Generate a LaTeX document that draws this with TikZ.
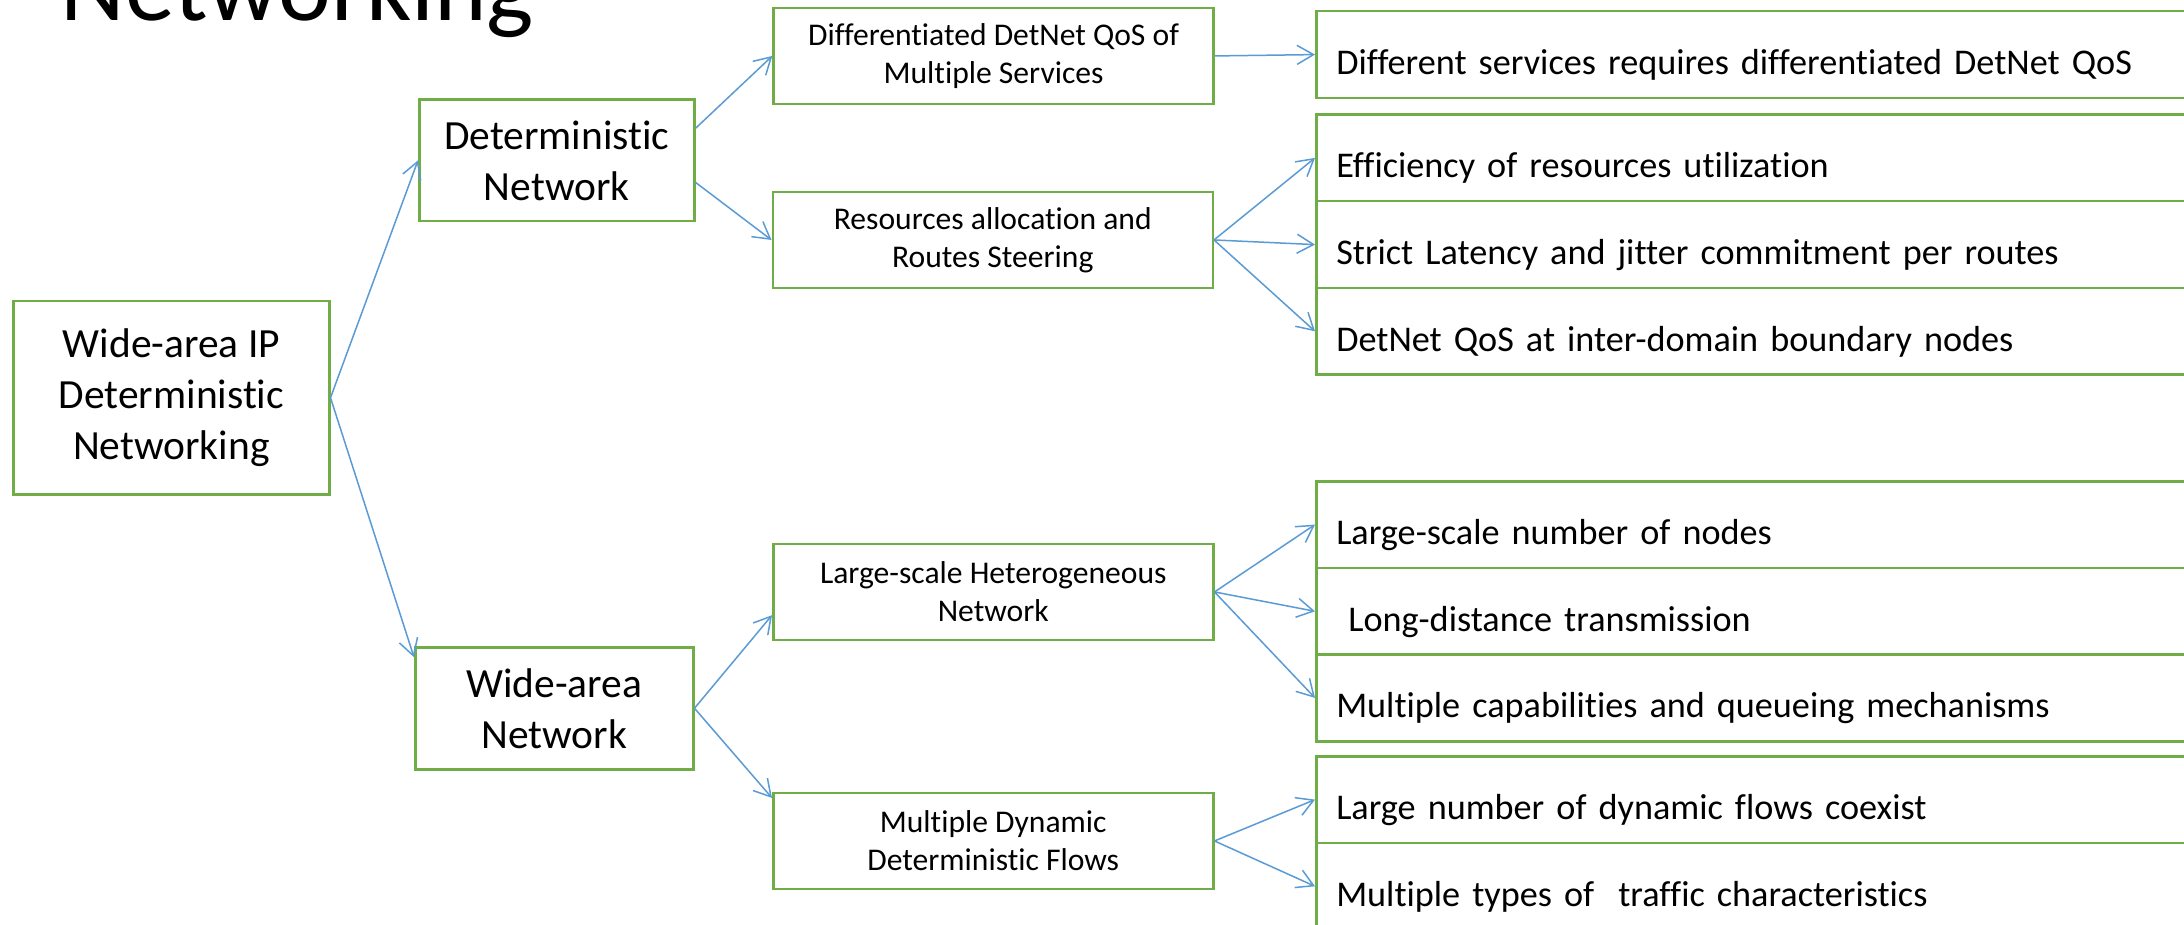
\documentclass[tikz,border=0pt]{standalone}
\usepackage{fontspec}
\setmainfont{Carlito}[Ligatures=NoCommon]
\usetikzlibrary{arrows.meta}
\definecolor{boxgreen}{HTML}{70AD47}
\definecolor{arrowblue}{HTML}{5B9BD5}
\begin{document}
\begin{tikzpicture}[x=0.5pt,y=-0.5pt,
  box/.style={draw=boxgreen, line width=1.25pt, inner sep=0pt, align=center, anchor=north west},
  bigtext/.style={font=\fontsize{20.75}{25.5}\selectfont},
  midtext/.style={font=\fontsize{15.8}{19}\selectfont},
  midbox/.style={box, midtext, minimum width=220pt, minimum height=48pt},
  rbox/.style={draw=boxgreen, line width=1.25pt, anchor=north west, inner xsep=10pt, inner ysep=0pt,
    minimum width=542.5pt, minimum height=43.35pt, text width=522.5pt, align=left,
    text height=19.7pt, text depth=0pt, font=\fontsize{18.1}{22}\selectfont},
  arr/.style={draw=arrowblue, line width=0.75pt, -{Straight Barb[length=8.25pt,width=9.5pt]}}
]
\useasboundingbox (0,0) rectangle (2184,925);
\fill[white] (0,0) rectangle (2184,925);
\clip (0,0) rectangle (2184,925);

\node[anchor=base west, inner sep=0pt, font=\fontsize{50}{60}\selectfont] (title) at (60,20.5) {Networking};

\node[box, bigtext, minimum width=157.85pt, minimum height=96.5pt] (root) at (12.3,300) {Wide-area IP\\Deterministic\\Networking};
\node[box, bigtext, minimum width=137.5pt, minimum height=60.85pt] (det) at (418,98.3) {Deterministic\\Network};
\node[box, bigtext, minimum width=139pt, minimum height=61pt] (wan) at (414,646) {Wide-area\\Network};

\node[midbox] (diff) at (772.3,6.7) {Differentiated DetNet QoS of\\Multiple Services};
\node[midbox] (res) at (771.5,190.7) {Resources allocation and\\Routes Steering};
\node[midbox] (lsh) at (772,542.7) {Large-scale Heterogeneous\\Network};
\node[midbox] (mdf) at (772,791.7) {Multiple Dynamic\\Deterministic Flows};

\node[rbox] (r1) at (1315,10) {Different services requires differentiated DetNet QoS};
\node[rbox] (r2) at (1315,113.3) {Efficiency of resources utilization};
\node[rbox] (r3) at (1315,200) {Strict Latency and jitter commitment per routes};
\node[rbox] (r4) at (1315,286.7) {DetNet QoS at inter-domain boundary nodes};
\node[rbox] (r5) at (1315,480) {Large-scale number of nodes};
\node[rbox] (r6) at (1315,566.7) {\ Long-distance transmission};
\node[rbox] (r7) at (1315,653.3) {Multiple capabilities and queueing mechanisms};
\node[rbox] (r8) at (1315,755) {Large number of dynamic flows coexist};
\node[rbox] (r9) at (1315,841.7) {Multiple types of~ traffic characteristics};

\draw[arr] (root.east) -- (det.west);
\draw[arr] (root.east) -- (wan.160);
\draw[arr] (det.13) -- (diff.west);
\draw[arr] (det.-9) -- (res.west);
\draw[arr] (wan.east) -- (lsh.186.7);
\draw[arr] (wan.east) -- (mdf.169);
\draw[arr] (diff.east) -- (r1.west);
\draw[arr] (res.east) -- (r2.west);
\draw[arr] (res.east) -- (r3.west);
\draw[arr] (res.east) -- (r4.west);
\draw[arr] (lsh.east) -- (r5.west);
\draw[arr] (lsh.east) -- (r6.west);
\draw[arr] (lsh.east) -- (r7.west);
\draw[arr] (mdf.east) -- (r8.west);
\draw[arr] (mdf.east) -- (r9.west);
\end{tikzpicture}
\end{document}
